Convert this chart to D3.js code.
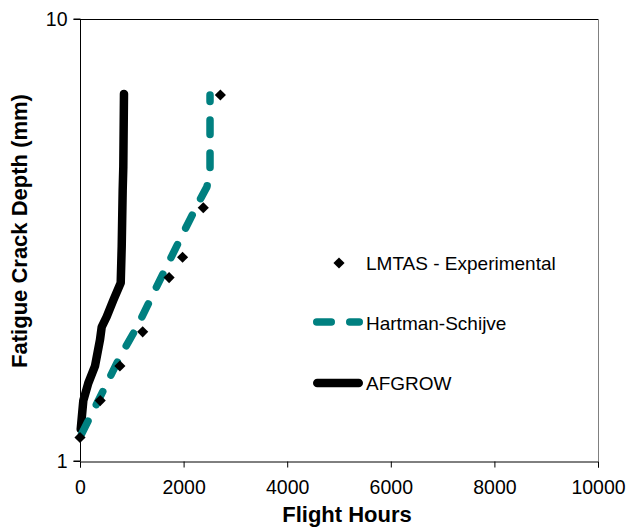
<!DOCTYPE html>
<html>
<head>
<meta charset="utf-8">
<script src="https://cdn.jsdelivr.net/npm/d3@7"></script>
<style>
  html, body { margin: 0; padding: 0; background: #fff; }
  svg { display: block; font-family: "Liberation Sans", Arial, sans-serif; }
</style>
</head>
<body>
<svg id="chart" width="628" height="529"></svg>
<script>
// ---- data ----
const expHours   = [0, 390, 770, 1210, 1720, 1980, 2380, 2710];
const expDepth   = [1.13, 1.37, 1.64, 1.96, 2.60, 2.89, 3.74, 6.73];

const hsHours    = [30, 420, 770, 1100, 1480, 1900, 2280, 2450, 2510, 2510];
const hsDepth    = [1.15, 1.42, 1.72, 2.01, 2.48, 3.12, 3.83, 4.17, 4.55, 6.73];

const afHours    = [14, 64, 160, 290, 386, 419, 515, 643, 786, 805, 824, 836, 849];
const afDepth    = [1.18, 1.37, 1.50, 1.64, 1.88, 2.01, 2.12, 2.31, 2.53, 3.05, 4.10, 4.63, 6.77];

const xTicks     = [0, 2000, 4000, 6000, 8000, 10000];
const yTicks     = [1, 10];
const seriesNames = ["LMTAS - Experimental", "Hartman-Schijve", "AFGROW"];
const xTitle = "Flight Hours";
const yTitle = "Fatigue Crack Depth (mm)";

// ---- layout ----
const L = 80, R = 598, T = 19, B = 461;
const svg = d3.select("#chart");
const x = d3.scaleLinear().domain([0, 10000]).range([L, R]);
const y = d3.scaleLog().domain([1, 10]).range([B, T]);

// frame (top + right)
svg.append("line").attr("x1", L).attr("x2", R).attr("y1", T + 0.5).attr("y2", T + 0.5)
  .attr("stroke", "#000").attr("stroke-width", 1);
svg.append("line").attr("x1", R + 0.5).attr("x2", R + 0.5).attr("y1", T).attr("y2", B)
  .attr("stroke", "#808080").attr("stroke-width", 1);

// axes
const xAxis = svg.append("g").attr("transform", `translate(0,${B + 0.5})`)
  .call(d3.axisBottom(x).tickValues(xTicks).tickSize(6).tickPadding(12.5).tickFormat(d3.format("d")));
const yAxis = svg.append("g").attr("transform", `translate(${L + 0.5},0)`)
  .call(d3.axisLeft(y).tickValues(yTicks).tickSize(7).tickPadding(6).tickFormat(d3.format("d")));
[xAxis, yAxis].forEach(g => {
  g.select(".domain").attr("stroke", "#000");
  g.selectAll(".tick line").attr("stroke", "#000");
  g.selectAll(".tick text").attr("fill", "#000")
    .style("font-family", '"Liberation Sans", Arial, sans-serif').style("font-size", "19.5px");
});
yAxis.select(".domain").attr("d", `M-7,${B}H0V${T}H-7`);
yAxis.selectAll(".tick line").attr("x2", -7);

// titles
svg.append("text").attr("x", 347).attr("y", 521.5).attr("text-anchor", "middle")
  .style("font-weight", "bold").style("font-size", "22px").text(xTitle);
svg.append("text").attr("transform", "translate(27,231) rotate(-90)").attr("text-anchor", "middle")
  .style("font-weight", "bold").style("font-size", "22px").text(yTitle);

// series
const line = d3.line().x(d => x(d[0])).y(d => y(d[1]));
const afData = afHours.map((h, i) => [h, afDepth[i]]);
const hsData = hsHours.map((h, i) => [h, hsDepth[i]]);
const expData = expHours.map((h, i) => [h, expDepth[i]]);

svg.append("path").datum(afData).attr("d", line)
  .attr("fill", "none").attr("stroke", "#000").attr("stroke-width", 8.5)
  .attr("stroke-linejoin", "round").attr("stroke-linecap", "round");

svg.append("path").datum(hsData).attr("d", line)
  .attr("fill", "none").attr("stroke", "#008080").attr("stroke-width", 7.5)
  .attr("stroke-dasharray", "14.5,18.5").attr("stroke-linejoin", "round").attr("stroke-linecap", "round");

const diamond = d3.symbol().type(d3.symbolSquare).size(62);
svg.selectAll(".exp").data(expData).enter().append("path")
  .attr("d", diamond)
  .attr("transform", d => `translate(${x(d[0])},${y(d[1])}) rotate(45)`)
  .attr("fill", "#000");

// legend
const lg = svg.append("g");
lg.append("path").attr("d", diamond).attr("transform", "translate(339,263) rotate(45)").attr("fill", "#000");
lg.append("line").attr("x1", 316.75).attr("x2", 359.25).attr("y1", 322).attr("y2", 322)
  .attr("stroke", "#008080").attr("stroke-width", 7.5).attr("stroke-dasharray", "14.5,18.5").attr("stroke-linecap", "round");
lg.append("line").attr("x1", 317.25).attr("x2", 358.75).attr("y1", 383).attr("y2", 383)
  .attr("stroke", "#000").attr("stroke-width", 8.5).attr("stroke-linecap", "round");
const ly = [269.5, 329.5, 390];
seriesNames.forEach((n, i) => {
  lg.append("text").attr("x", 366).attr("y", ly[i]).style("font-size", "19px").text(n);
});
</script>
</body>
</html>
